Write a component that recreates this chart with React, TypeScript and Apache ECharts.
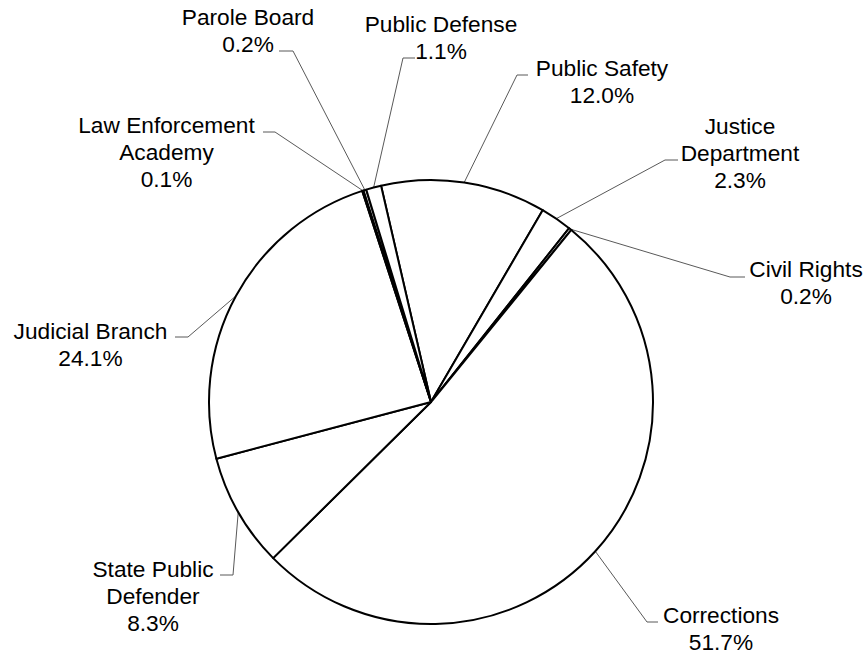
import React, { useEffect, useRef } from "react";
import * as echarts from "echarts";

// Data (percent of total)
const categories = [
  "Public Safety",
  "Justice Department",
  "Civil Rights",
  "Corrections",
  "State Public Defender",
  "Judicial Branch",
  "Law Enforcement Academy",
  "Parole Board",
  "Public Defense",
];
const shares = [12.0, 2.3, 0.2, 51.7, 8.3, 24.1, 0.1, 0.2, 1.1];
const labelTexts = [
  "Public Safety",
  "Justice\nDepartment",
  "Civil Rights",
  "Corrections",
  "State Public\nDefender",
  "Judicial Branch",
  "Law Enforcement\nAcademy",
  "Parole Board",
  "Public Defense",
];

// Layout (label block centers and leader-line elbows / ends), in pixels
const labelCenters: number[][] = [
  [602, 81.5],
  [740, 152.5],
  [806, 282.5],
  [721, 628],
  [153, 595.5],
  [90.5, 344],
  [166.5, 151.5],
  [248, 30.5],
  [441, 37.5],
];
const leaderElbows: number[][] = [
  [517, 75],
  [665, 160],
  [730, 277],
  [647, 622],
  [233, 575],
  [188, 337],
  [275, 132],
  [293, 51],
  [403, 58],
];
const leaderEnds: number[][] = [
  [528, 75],
  [678, 160],
  [745, 277],
  [658, 622],
  [220, 575],
  [175, 337],
  [263, 132],
  [279, 51],
  [415, 58],
];

export default function App() {
  const ref = useRef<HTMLDivElement>(null);
  useEffect(() => {
    if (!ref.current) return;
    const chart = echarts.init(ref.current, null, { renderer: "svg" });
    chart.setOption({
      animation: false,
      backgroundColor: "#ffffff",
      series: [
        {
          type: "pie",
          center: [431, 402],
          radius: 222,
          startAngle: 103,
          clockwise: true,
          avoidLabelOverlap: false,
          emphasis: { disabled: true },
          itemStyle: { color: "#ffffff", borderColor: "#000000", borderWidth: 2 },
          label: {
            show: true,
            position: "outside",
            fontFamily: "Liberation Sans, Arial, sans-serif",
            fontSize: 22.7,
            lineHeight: 27,
            color: "#000000",
            align: "center",
            formatter: (p: any) => `${labelTexts[p.dataIndex]}\n${p.value.toFixed(1)}%`,
          },
          labelLine: {
            show: true,
            length: 20,
            length2: 10,
            lineStyle: { color: "#595959", width: 1 },
          },
          labelLayout: (params: any) => {
            const i = params.dataIndex;
            const start = params.labelLinePoints ? params.labelLinePoints[0] : leaderElbows[i];
            return {
              x: labelCenters[i][0],
              y: labelCenters[i][1],
              align: "center",
              verticalAlign: "middle",
              labelLinePoints: [start, leaderElbows[i], leaderEnds[i]],
            };
          },
          data: categories.map((name, i) => ({ name, value: shares[i] })),
        },
      ],
    });
    return () => chart.dispose();
  }, []);
  return (
    <div
      ref={ref}
      style={{ position: "fixed", left: 0, top: 0, width: 867, height: 654, background: "#fff" }}
    />
  );
}
